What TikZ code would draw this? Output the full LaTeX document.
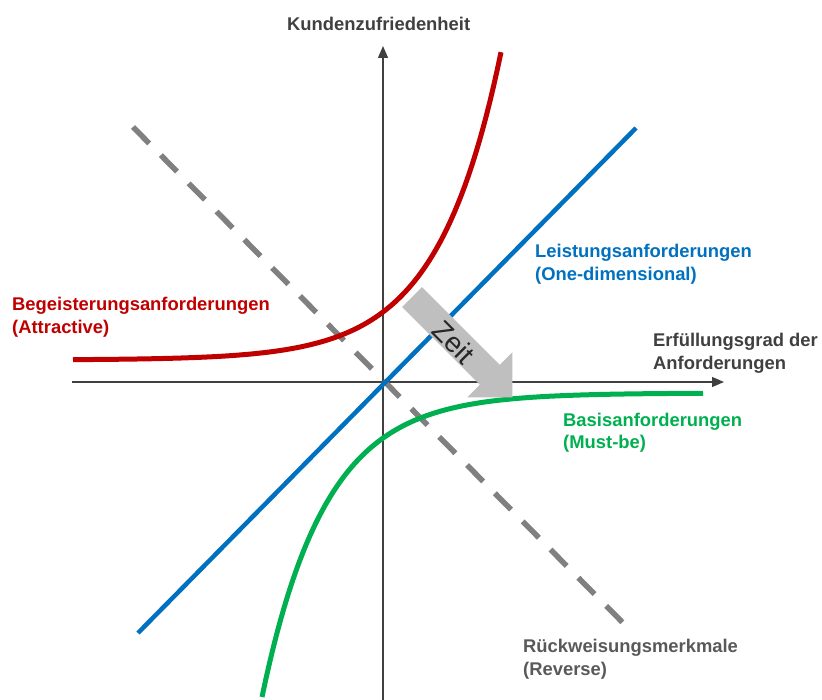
\documentclass[tikz,border=0pt]{standalone}
\usepackage{fontspec}
\setmainfont{Liberation Sans}
\usetikzlibrary{arrows.meta}
\definecolor{cred}{RGB}{192,0,0}
\definecolor{cblue}{RGB}{0,112,192}
\definecolor{cgreen}{RGB}{0,176,80}
\definecolor{cdash}{RGB}{128,128,128}
\definecolor{caxis}{RGB}{64,64,64}
\definecolor{cgraytext}{RGB}{89,89,89}
\definecolor{carrow}{RGB}{191,191,191}
\definecolor{czeit}{RGB}{38,38,38}
\begin{document}
\begin{tikzpicture}[x=1pt,y=-1pt,
  axis/.style={draw=caxis, line width=1.3pt, -{Triangle[length=12pt,width=10pt]}},
  lbl/.style={font=\fontsize{18.4}{23}\selectfont\bfseries, align=left, anchor=base west, inner sep=0pt},
  curve/.style={line width=5pt}]
\useasboundingbox (0,0) rectangle (822,700);
% axes
\coordinate (xs) at (72,382); \coordinate (xe) at (724,382);
\coordinate (ys) at (383,702); \coordinate (ye) at (383,46);
\draw[axis] (xs) -- (xe);
\draw[axis] (ys) -- (ye);
% reverse (dashed)
\coordinate (ds) at (133,127); \coordinate (de) at (630,630);
\draw[cdash, line width=5.5pt, dash pattern=on 23pt off 16.6pt] (ds) -- (de);
% one-dimensional
\coordinate (bs) at (138,633); \coordinate (be) at (636,128);
\draw[cblue, line width=4.5pt] (bs) -- (be);
% attractive
\draw[cred, curve, domain=73:501, samples=120] plot (\x, {360-303*exp((\x-500)/63.5)});
% must-be
\draw[cgreen, curve, domain=262:703, samples=120] plot (\x, {393+304*exp(-(\x-262)/63.4)});
% time arrow
\begin{scope}[shift={(412,297)}, rotate=-45]
  \fill[carrow] (0,-14) -- (110,-14) -- (110,-32) -- (142,0) -- (110,32) -- (110,14) -- (0,14) -- cycle;
\end{scope}
\node[text=czeit, rotate=-45, font=\fontsize{28}{32}\selectfont, inner sep=0pt] (zeit) at (454,342) {Zeit};
% labels
\node[lbl, text=caxis] (kz) at (287,31) {Kundenzufriedenheit};
\node[lbl, text=cred] (att) at (12,334) {Begeisterungsanforderungen\\(Attractive)};
\node[lbl, text=cblue] (one) at (535,281) {Leistungsanforderungen\\(One-dimensional)};
\node[lbl, text=caxis] (ef) at (653,370) {Erfüllungsgrad der\\Anforderungen};
\node[lbl, text=cgreen] (mb) at (563,449) {Basisanforderungen\\(Must-be)};
\node[lbl, text=cgraytext] (rev) at (523,675) {Rückweisungsmerkmale\\(Reverse)};
\end{tikzpicture}
\end{document}
